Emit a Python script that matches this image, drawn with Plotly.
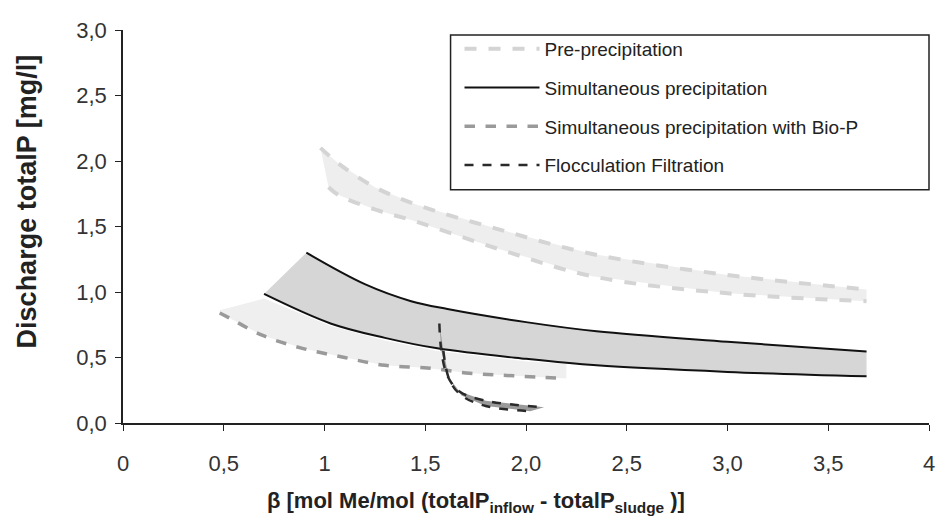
import plotly.graph_objects as go

# ---- data ----
pre_upper_x = [0.98, 1.07, 1.25, 1.45, 1.86, 2.33, 3.0, 3.69]
pre_upper_y = [2.10, 1.98, 1.80, 1.67, 1.48, 1.29, 1.13, 1.02]
pre_lower_x = [1.02, 1.07, 1.25, 1.45, 1.86, 2.33, 3.0, 3.69]
pre_lower_y = [1.80, 1.74, 1.63, 1.54, 1.33, 1.12, 0.99, 0.93]

sim_upper_x = [0.91, 1.20, 1.43, 1.61, 2.0, 2.35, 3.0, 3.69]
sim_upper_y = [1.30, 1.06, 0.93, 0.87, 0.77, 0.70, 0.62, 0.545]
sim_lower_x = [0.70, 1.03, 1.30, 1.56, 2.0, 2.35, 3.0, 3.69]
sim_lower_y = [0.985, 0.76, 0.65, 0.57, 0.49, 0.44, 0.39, 0.356]

bio_x = [0.48, 0.53, 0.69, 0.89, 1.10, 1.30, 1.51, 1.72, 1.94, 2.20]
bio_y = [0.84, 0.80, 0.67, 0.57, 0.50, 0.44, 0.42, 0.38, 0.36, 0.34]
bio_upper_x = [0.48, 0.70, 1.03, 1.30, 1.56, 2.0, 2.20]
bio_upper_y = [0.86, 0.95, 0.74, 0.63, 0.55, 0.47, 0.45]

floc_upper_x = [1.57, 1.58, 1.61, 1.67, 1.80, 2.09]
floc_upper_y = [0.76, 0.55, 0.36, 0.24, 0.17, 0.12]
floc_lower_x = [1.59, 1.62, 1.68, 1.80, 2.02]
floc_lower_y = [0.55, 0.33, 0.21, 0.13, 0.09]

x_tickvals = [0, 0.5, 1, 1.5, 2, 2.5, 3, 3.5, 4]
x_ticktext = ["0", "0,5", "1", "1,5", "2,0", "2,5", "3,0", "3,5", "4"]
y_tickvals = [0, 0.5, 1, 1.5, 2, 2.5, 3]
y_ticktext = ["0,0", "0,5", "1,0", "1,5", "2,0", "2,5", "3,0"]

names = ["Pre-precipitation", "Simultaneous precipitation",
         "Simultaneous precipitation with Bio-P", "Flocculation Filtration"]
x_title = "<b>β [mol Me/mol (totalP<sub>inflow</sub> - totalP<sub>sludge</sub> )]</b>"
y_title = "<b>Discharge totalP [mg/l]</b>"

FONT = "Liberation Sans, Arial, sans-serif"

fig = go.Figure()

def band(ux, uy, lx, ly, color):
    fig.add_trace(go.Scatter(x=list(ux) + list(lx)[::-1], y=list(uy) + list(ly)[::-1],
                             fill="toself", fillcolor=color, mode="none",
                             line=dict(width=0), showlegend=False, hoverinfo="skip"))

# fills
band(pre_upper_x, pre_upper_y, pre_lower_x, pre_lower_y, "#eeeeee")
band(bio_upper_x, bio_upper_y, bio_x, bio_y, "#efefef")
band(sim_upper_x, sim_upper_y, sim_lower_x, sim_lower_y, "#d6d6d6")
band(floc_upper_x, floc_upper_y, floc_lower_x, floc_lower_y, "#9a9a9a")

lc = dict(mode="lines", hoverinfo="skip")
# Pre-precipitation
fig.add_trace(go.Scatter(x=pre_upper_x, y=pre_upper_y, name=names[0], legendgroup="a",
                         line=dict(color="#d4d4d4", width=4, dash="dash", shape="spline"), **lc))
fig.add_trace(go.Scatter(x=pre_lower_x, y=pre_lower_y, legendgroup="a", showlegend=False,
                         line=dict(color="#d4d4d4", width=4, dash="dash", shape="spline"), **lc))
# Simultaneous
fig.add_trace(go.Scatter(x=sim_upper_x, y=sim_upper_y, name=names[1], legendgroup="b",
                         line=dict(color="#111111", width=2, shape="spline"), **lc))
fig.add_trace(go.Scatter(x=sim_lower_x, y=sim_lower_y, legendgroup="b", showlegend=False,
                         line=dict(color="#111111", width=2, shape="spline"), **lc))
# Bio-P
fig.add_trace(go.Scatter(x=bio_x, y=bio_y, name=names[2], legendgroup="c",
                         line=dict(color="#9a9a9a", width=3.5, dash="dash", shape="spline"), **lc))
# Flocculation
fig.add_trace(go.Scatter(x=floc_upper_x, y=floc_upper_y, name=names[3], legendgroup="d",
                         line=dict(color="#2a2a2a", width=2.5, dash="dash", shape="spline"), **lc))
fig.add_trace(go.Scatter(x=floc_lower_x, y=floc_lower_y, legendgroup="d", showlegend=False,
                         line=dict(color="#2a2a2a", width=2.5, dash="dash", shape="spline"), **lc))

axis_font = dict(family=FONT, size=22, color="#333333")

fig.update_layout(
    width=937, height=516,
    margin=dict(l=115, r=10, t=19, b=101),
    paper_bgcolor="white", plot_bgcolor="white",
    font=dict(family=FONT, color="#222222"),
    xaxis=dict(range=[0, 4], tickvals=x_tickvals, ticktext=x_ticktext,
               showgrid=False, zeroline=False, showline=True, linecolor="#222222", linewidth=1.5,
               ticks="outside", ticklen=6, tickcolor="#222222", tickfont=axis_font,
               ticklabelstandoff=14),
    yaxis=dict(range=[0, 3], tickvals=y_tickvals, ticktext=y_ticktext,
               showgrid=False, zeroline=False, showline=True, linecolor="#222222", linewidth=1.5,
               ticks="outside", ticklen=6, tickcolor="#222222", tickfont=axis_font,
               ticklabelstandoff=4),
    legend=dict(x=0.4175, y=1.0, xanchor="left", yanchor="top",
                bgcolor="rgba(0,0,0,0)", borderwidth=0,
                font=dict(family=FONT, size=19, color="#222222"),
                traceorder="grouped", tracegroupgap=11, itemwidth=75),
    shapes=[dict(type="rect", xref="paper", yref="paper",
                 x0=(453 - 123) / 812, x1=1.0, y0=(423 - 188) / 396, y1=(423 - 32) / 396,
                 line=dict(color="#222222", width=1.5), fillcolor="rgba(0,0,0,0)", layer="above")],
    annotations=[
        dict(text=x_title, xref="paper", yref="paper", x=(479 - 123) / 812, y=-(503 - 423) / 396,
             xanchor="center", yanchor="middle", showarrow=False,
             font=dict(family=FONT, size=22, color="#222222")),
        dict(text=y_title, xref="paper", yref="paper", x=(26 - 123) / 812, y=(423 - 200) / 396,
             xanchor="center", yanchor="middle", showarrow=False, textangle=-90,
             font=dict(family=FONT, size=27, color="#222222")),
    ],
)

fig.write_html("out.html")
